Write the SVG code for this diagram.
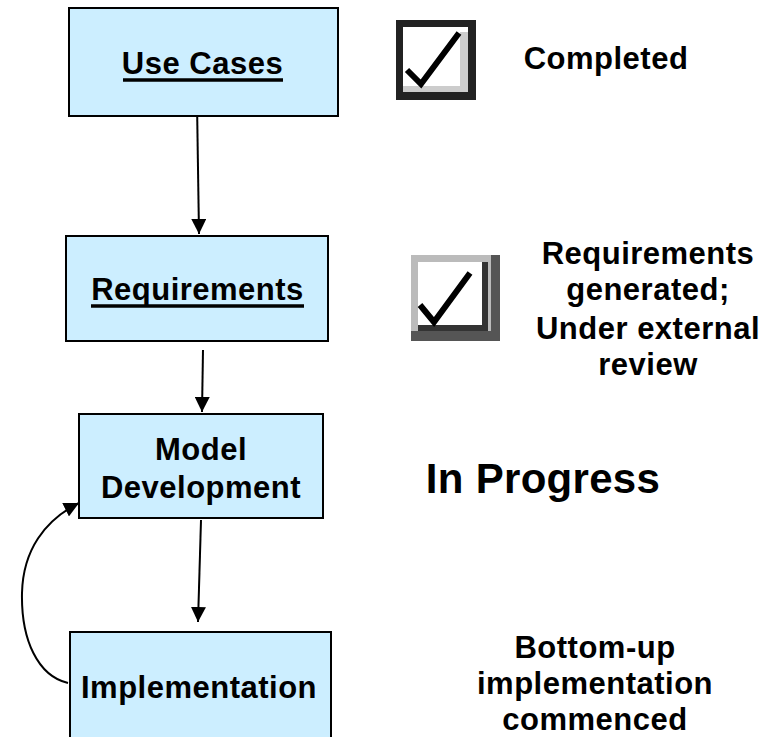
<svg xmlns="http://www.w3.org/2000/svg" width="782" height="737" viewBox="0 0 782 737">
<style>
.box{fill:#cceeff;stroke:#000;stroke-width:2}
.t{font-family:"Liberation Sans",Arial,sans-serif;font-weight:bold;font-size:31px;letter-spacing:0.5px;fill:#000;text-anchor:middle}
.ul{stroke:#000;stroke-width:3.5}
.c{fill:none;stroke:#000;stroke-width:2}
</style>
<defs>
<marker id="ah" viewBox="0 0 10 10" refX="10" refY="5" markerWidth="15" markerHeight="15" orient="auto" markerUnits="userSpaceOnUse">
<path d="M0,0 L10,5 L0,10 z" fill="#000"/>
</marker>
</defs>
<g id="connectors">
<line class="c" x1="197" y1="103" x2="199" y2="234" marker-end="url(#ah)"/>
<line class="c" x1="203" y1="350" x2="202" y2="412" marker-end="url(#ah)"/>
<line class="c" x1="201" y1="520" x2="198" y2="622" marker-end="url(#ah)"/>
<path class="c" d="M68,683 C38,676 21,640 22,593 C23,550 45,520 79,503" marker-end="url(#ah)"/>
</g>
<g id="use-cases">
<rect class="box" x="69" y="8" width="269" height="108"/>
<text class="t" x="202.5" y="74">Use Cases</text>
<line class="ul" x1="123" y1="80" x2="283" y2="80"/>
</g>
<g id="requirements">
<rect class="box" x="66" y="236" width="262" height="105"/>
<text class="t" x="197.5" y="300">Requirements</text>
<line class="ul" x1="91" y1="306" x2="304" y2="306"/>
</g>
<g id="model-development">
<rect class="box" x="79" y="414" width="244" height="104"/>
<text class="t" x="201" y="460">Model</text>
<text class="t" x="201" y="498">Development</text>
</g>
<g id="implementation">
<rect class="box" x="70" y="632" width="261" height="106"/>
<text class="t" x="199" y="698">Implementation</text>
</g>
<g id="check1">
<rect x="396" y="20" width="80" height="80" fill="#222"/>
<rect x="403" y="27" width="65" height="65" fill="#fff"/>
<path d="M460,32 L468,32 L468,92 L403,92 L403,86 L460,86 z" fill="#ccc"/>
<path d="M407,70 L421,84 L459,33" fill="none" stroke="#000" stroke-width="6"/>
</g>
<g id="check2">
<rect x="411" y="255" width="89" height="86" fill="#555"/>
<rect x="411" y="255" width="80" height="76" fill="#bbb"/>
<rect x="418" y="262" width="64" height="63" fill="#fff"/>
<rect x="482" y="262" width="6" height="63" fill="#333"/>
<rect x="418" y="325" width="70" height="6" fill="#333"/>
<path d="M420,305 L434,322 L470,273" fill="none" stroke="#000" stroke-width="6"/>
</g>
<g id="labels">
<text class="t" x="606" y="69">Completed</text>
<text class="t" x="648" y="264">Requirements</text>
<text class="t" x="648" y="300">generated;</text>
<text class="t" x="648" y="339">Under external</text>
<text class="t" x="648" y="375">review</text>
<text class="t" x="543" y="493" style="font-size:42px;letter-spacing:0.3px">In Progress</text>
<text class="t" x="595" y="658">Bottom-up</text>
<text class="t" x="595" y="694">implementation</text>
<text class="t" x="595" y="730">commenced</text>
</g>
</svg>
